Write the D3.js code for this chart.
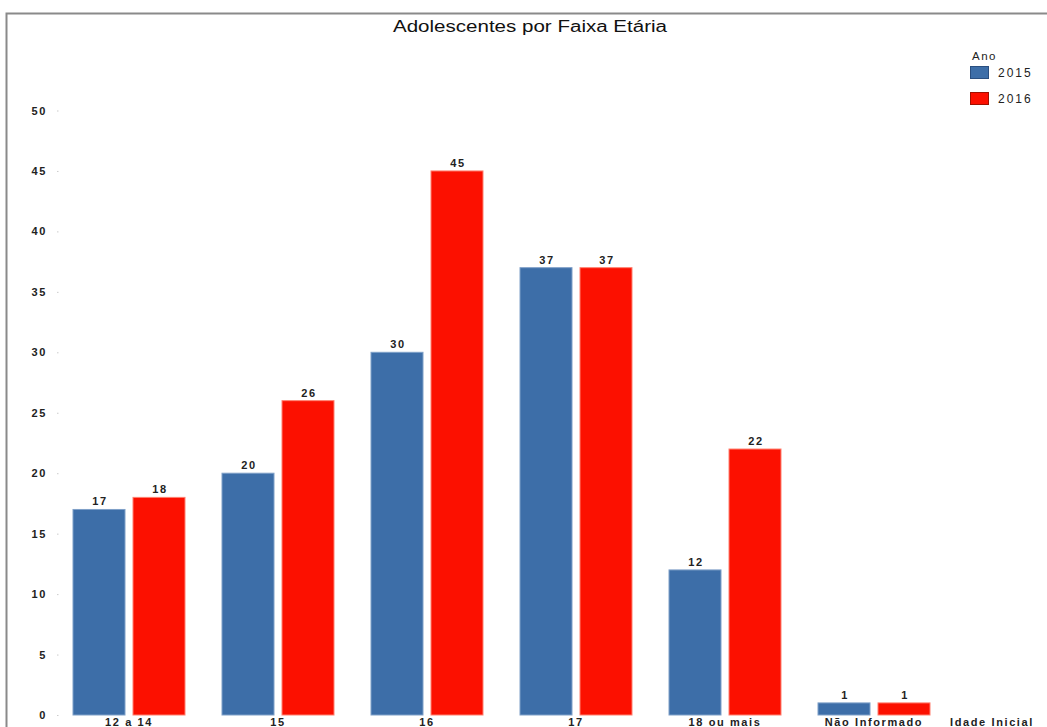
<!DOCTYPE html>
<html>
<head>
<meta charset="utf-8">
<title>Adolescentes por Faixa Etária</title>
<script src="https://d3js.org/d3.v7.min.js"></script>
<style>
body { margin: 0; background: #fff; }
svg { display: block; font-family: "Liberation Sans", Arial, sans-serif; }
.tick line, .domain { display: none; }
</style>
</head>
<body>
<script>
var categorias = ["12 a 14", "15", "16", "17", "18 ou mais", "Não Informado", "Idade Inicial"];
var anos = ["2015", "2016"];
var v2015 = [17, 20, 30, 37, 12, 1, null];
var v2016 = [18, 26, 45, 37, 22, 1, null];
var yTicks = [0, 5, 10, 15, 20, 25, 30, 35, 40, 45, 50];
var cores = ["#3d6ea8", "#fc1000"];

var W = 1047, H = 727;
var svg = d3.select("body").append("svg").attr("width", W).attr("height", H);

// moldura
svg.append("path").attr("d", "M6.5,727 V13.5 H1047")
  .attr("fill", "none").attr("stroke", "#8a8a8a").attr("stroke-width", 2);

svg.append("text").attr("x", 393).attr("y", 32)
  .attr("textLength", 274).attr("lengthAdjust", "spacingAndGlyphs")
  .style("font-size", "16px").attr("fill", "#111")
  .text("Adolescentes por Faixa Etária");

var x = d3.scaleBand().domain(categorias).range([54.5, 54.5 + 149 * categorias.length]);
var x1 = d3.scaleBand().domain(anos).range([18.5, 130.5]).paddingInner(8 / 60);
var y = d3.scaleLinear().domain([0, 50]).range([715, 110.5]);

// eixo y
var gy = svg.append("g").attr("transform", "translate(57,0)")
  .call(d3.axisLeft(y).tickValues(yTicks).tickSize(0).tickPadding(10));
gy.selectAll("text").style("font-size", "11px").style("font-weight", "bold")
  .style("letter-spacing", "1.6px").attr("fill", "#222");
gy.selectAll(".tick").append("rect").attr("x", 0).attr("y", -0.5).attr("width", 1.5).attr("height", 1).attr("fill", "#ccc");

var linhas = categorias.map(function(c, i) {
  return {cat: c, vals: [v2015[i], v2016[i]]};
});

var grupos = svg.selectAll(".grupo").data(linhas).enter().append("g")
  .attr("class", "grupo")
  .attr("transform", function(d) { return "translate(" + x(d.cat) + ",0)"; });

grupos.selectAll("rect").data(function(d) {
    return anos.map(function(a, j) { return {ano: a, v: d.vals[j], j: j}; }).filter(function(e) { return e.v != null; });
  }).enter().append("rect")
  .attr("x", function(d) { return x1(d.ano); })
  .attr("width", x1.bandwidth())
  .attr("y", function(d) { return y(d.v); })
  .attr("height", function(d) { return y(0) - y(d.v); })
  .attr("fill", function(d) { return cores[d.j]; })
  .attr("stroke", function(d) { return d.j == 0 ? "#7fa0c8" : "#ff8070"; })
  .attr("stroke-width", 1);

grupos.selectAll("text.val").data(function(d) {
    return anos.map(function(a, j) { return {ano: a, v: d.vals[j]}; }).filter(function(e) { return e.v != null; });
  }).enter().append("text").attr("class", "val")
  .attr("x", function(d) { return x1(d.ano) + x1.bandwidth() / 2 + 1; })
  .attr("y", function(d) { return y(d.v) - 4; })
  .attr("text-anchor", "middle")
  .style("font-size", "11px").style("font-weight", "bold").style("letter-spacing", "1.6px").attr("fill", "#222")
  .text(function(d) { return d.v; });

// rótulos do eixo x
svg.selectAll(".xl").data(categorias).enter().append("text").attr("class", "xl")
  .attr("x", function(d) { return Math.min(x(d) + x.bandwidth() / 2, 992); })
  .attr("y", 726)
  .attr("text-anchor", "middle")
  .style("font-size", "11px").style("font-weight", "bold").style("letter-spacing", "1.6px").attr("fill", "#222")
  .text(function(d) { return d; });

// legenda
var leg = svg.append("g");
leg.append("text").attr("x", 972).attr("y", 60).style("font-size", "11.5px")
  .style("letter-spacing", "1.5px").attr("fill", "#222").text("Ano");
anos.forEach(function(a, i) {
  leg.append("rect").attr("x", 970.5).attr("y", 66.5 + i * 26).attr("width", 18).attr("height", 12)
    .attr("fill", cores[i]).attr("stroke", i == 0 ? "#2a4f80" : "#a01000");
  leg.append("text").attr("x", 998).attr("y", 77 + i * 26).style("font-size", "12px")
    .style("letter-spacing", "2px").attr("fill", "#222").text(a);
});
</script>
</body>
</html>
